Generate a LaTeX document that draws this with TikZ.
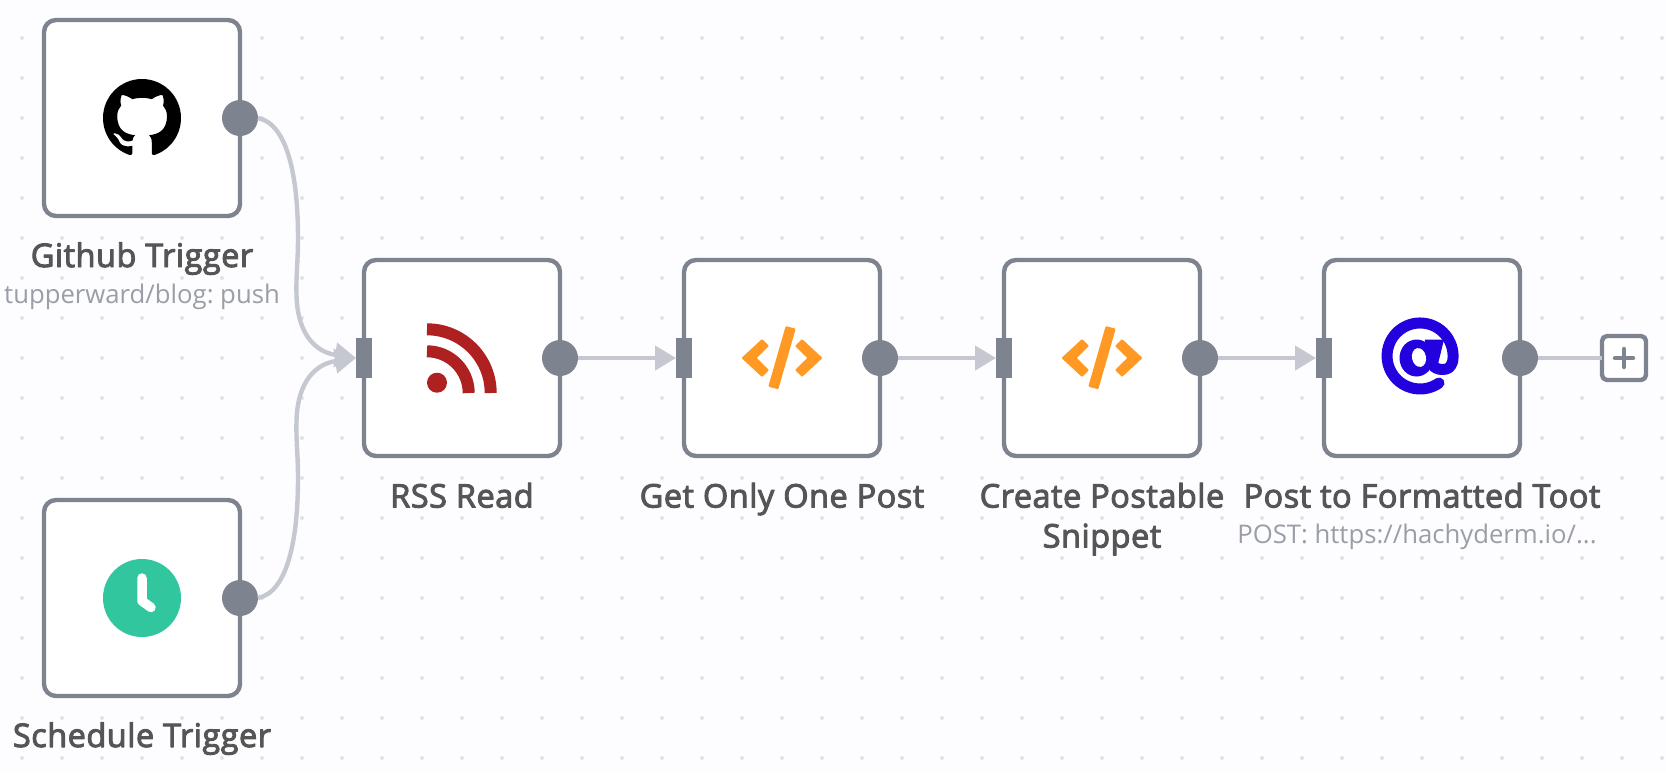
\documentclass[tikz,border=0pt]{standalone}
\usepackage{fontspec}
\usepackage{tikz}
\usetikzlibrary{arrows.meta,svg.path}
\setmainfont{Open Sans}
\newfontfamily\semifont{Open Sans}[FakeBold=3,LetterSpace=1.5]
\frenchspacing
\definecolor{bgpage}{rgb}{0.992,0.992,1.0}
\definecolor{griddot}{rgb}{0.875,0.89,0.91}
\definecolor{boxline}{rgb}{0.49,0.518,0.565}
\definecolor{wireline}{rgb}{0.773,0.784,0.82}
\definecolor{titletext}{rgb}{0.333,0.333,0.333}
\definecolor{subtext}{rgb}{0.6,0.62,0.655}
\definecolor{rssred}{rgb}{0.686,0.125,0.125}
\definecolor{codeorange}{rgb}{1.0,0.6,0.137}
\definecolor{clockgreen}{rgb}{0.196,0.776,0.624}
\definecolor{atblue}{rgb}{0.137,0.0,0.871}
\tikzset{
nodebox/.style={draw=boxline,fill=white,line width=4.4pt,rounded corners=12pt,minimum size=196pt,inner sep=0pt,outer sep=0pt},
outport/.style={circle,fill=boxline,minimum size=36pt,inner sep=0pt,outer sep=0pt},
inport/.style={rectangle,fill=boxline,minimum width=16pt,minimum height=40pt,inner sep=0pt,outer sep=0pt},
addbox/.style={draw=boxline,fill=white,line width=4.4pt,rounded corners=5pt,minimum size=44pt,inner sep=0pt,outer sep=0pt},
wire/.style={draw=wireline,line width=4.4pt},
titlelabel/.style={text=titletext,font=\semifont\fontsize{32.5}{40}\selectfont,anchor=base,inner sep=0pt},
sublabel/.style={text=subtext,font=\fontsize{25.7}{30}\selectfont,anchor=base,inner sep=0pt},
codemark/.style={fill=codeorange,rounded corners=1pt}
}
\begin{document}
\begin{tikzpicture}[line cap=butt,line join=round,>={Triangle[length=21pt,width=24pt]},x=1.0pt,y=-1.0pt]
\useasboundingbox (0,0) rectangle (1666,772);
\fill [bgpage] (0,0) rectangle (1666,772);
\foreach \gx in {0,...,41}
\foreach \gy in {0,...,18}
\fill [griddot] ({22+40*\gx},{38+40*\gy}) circle (2pt);
\node (gitbox) [nodebox] at (142,118) {};
\node (clockbox) [nodebox] at (142,598) {};
\node (rssbox) [nodebox] at (462,358) {};
\node (firstcodebox) [nodebox] at (782,358) {};
\node (secondcodebox) [nodebox] at (1102,358) {};
\node (tootbox) [nodebox] at (1422,358) {};
\node (addnode) [addbox] at (1624,358) {};
\coordinate (gitbend) at (298,238);
\coordinate (clockbend) at (298,478);
\node (gitout) [outport] at (gitbox.east) {};
\node (clockout) [outport] at (clockbox.east) {};
\node (rssout) [outport] at (rssbox.east) {};
\node (firstcodeout) [outport] at (firstcodebox.east) {};
\node (secondcodeout) [outport] at (secondcodebox.east) {};
\node (tootout) [outport] at (tootbox.east) {};
\node (rssin) [inport] at (rssbox.west) {};
\node (firstcodein) [inport] at (firstcodebox.west) {};
\node (secondcodein) [inport] at (secondcodebox.west) {};
\node (tootin) [inport] at (tootbox.west) {};
\draw [wire] (gitout.east) .. controls +(30,6) and +(0,-60) .. (gitbend);
\draw [wire,->] (gitbend) .. controls +(0,24) and +(-0.5,-22) .. (296.5,295) .. controls +(0.5,30) and +(-47,-7) .. (rssin.west);
\draw [wire] (clockout.east) .. controls +(30,-6) and +(0,60) .. (clockbend);
\draw [wire,->] (clockbend) .. controls +(0,-24) and +(-0.5,22) .. (296.5,421) .. controls +(0.5,-30) and +(-47,7) .. (rssin.west);
\draw [wire,->] (rssout.east) -- (firstcodein.west);
\draw [wire,->] (firstcodeout.east) -- (secondcodein.west);
\draw [wire,->] (secondcodeout.east) -- (tootin.west);
\draw [wire] (tootout.east) -- (addnode.west);
\draw [boxline,line width=4.5pt,line cap=round] ([xshift=-9pt]addnode.center) -- ([xshift=9pt]addnode.center);
\draw [boxline,line width=4.5pt,line cap=round] ([yshift=-9pt]addnode.center) -- ([yshift=9pt]addnode.center);
\begin{scope}[shift={(103,79)},xscale=4.875,yscale=-4.875]
\fill [black] svg {M 8 0 c -4.42 0 -8 3.58 -8 8 c 0 3.54 2.29 6.53 5.47 7.59 c 0.4 0.07 0.55 -0.17 0.55 -0.38 c 0 -0.19 -0.01 -0.82 -0.01 -1.49 c -2.01 0.37 -2.53 -0.49 -2.69 -0.94 c -0.09 -0.23 -0.48 -0.94 -0.82 -1.13 c -0.28 -0.15 -0.68 -0.52 -0.01 -0.53 c 0.63 -0.01 1.08 0.58 1.23 0.82 c 0.72 1.21 1.87 0.87 2.33 0.66 c 0.07 -0.52 0.28 -0.87 0.51 -1.07 c -1.78 -0.2 -3.64 -0.89 -3.64 -3.95 c 0 -0.87 0.31 -1.59 0.82 -2.15 c -0.08 -0.2 -0.36 -1.02 0.08 -2.12 c 0 0 0.67 -0.21 2.2 0.82 c 0.64 -0.18 1.32 -0.27 2 -0.27 c 0.68 0 1.36 0.09 2 0.27 c 1.53 -1.04 2.2 -0.82 2.2 -0.82 c 0.44 1.1 0.16 1.92 0.08 2.12 c 0.51 0.56 0.82 1.27 0.82 2.15 c 0 3.07 -1.87 3.75 -3.65 3.95 c 0.29 0.25 0.54 0.73 0.54 1.48 c 0 1.07 -0.01 1.93 -0.01 2.2 c 0 0.21 0.15 0.46 0.55 0.38 c 3.18 -1.06 5.45 -4.05 5.45 -7.59 c 0 -4.42 -3.58 -8 -8 -8 z};
\end{scope}
\fill [clockgreen] (142,598) circle (39pt);
\draw [white,line width=9.5pt,line cap=round] (142,578) -- (142,601) -- (151,607.5);
\draw [rssred,line width=12pt] (427,329.3) arc (270:360:63.7);
\draw [rssred,line width=12pt] (427,351.3) arc (270:360:41.7);
\fill [rssred] (437,382.7) circle (10pt);
\foreach \cx in {782,1102} {
\fill [codemark] ({\cx-40.5},358) -- ({\cx-20},339) -- ({\cx-13},346) -- ({\cx-25.3},358) -- ({\cx-13},370) -- ({\cx-20},377) -- cycle;
\fill [codemark] ({\cx+40.5},358) -- ({\cx+20},339) -- ({\cx+13},346) -- ({\cx+25.3},358) -- ({\cx+13},370) -- ({\cx+20},377) -- cycle;
\fill [codemark] ({\cx+3.7},326) -- ({\cx+13.7},328.7) -- ({\cx-3.7},389.3) -- ({\cx-13.7},386.6) -- cycle;
}
\draw [atblue,line width=11pt,line cap=round] (1439,383) arc (55:370:33) .. controls +(-2,6) and +(6,0) .. (1442,369.5) .. controls +(-4,0) and +(-1,3) .. (1433,364);
\fill [atblue] (1416.5,358) ellipse (17pt and 18.5pt);
\fill [atblue] (1425,339.5) -- (1444,339.5) -- (1437,368) -- (1423,368) -- cycle;
\fill [white,rotate around={12:(1419,357.5)}] (1419,357.5) ellipse (7pt and 9.5pt);
\node (gittitle) [titlelabel] at (142,267) {Github Trigger};
\node (gitsub) [sublabel] at (142,303) {tupperward/blog: push};
\node (clocktitle) [titlelabel] at (142,747) {Schedule Trigger};
\node (rsstitle) [titlelabel] at (462,507.5) {RSS Read};
\node (firstcodetitle) [titlelabel] at (782,507.5) {Get Only One Post};
\node (secondcodetitle) [titlelabel] at (1102,507.5) {Create Postable};
\node (secondcodetail) [titlelabel] at (1102,547.5) {Snippet};
\node (toottitle) [titlelabel] at (1422,507.5) {Post to Formatted Toot};
\node (tootsub) [sublabel] at (1417,543.5) {POST: https://hachyderm.io/...};
\end{tikzpicture}
\end{document}
